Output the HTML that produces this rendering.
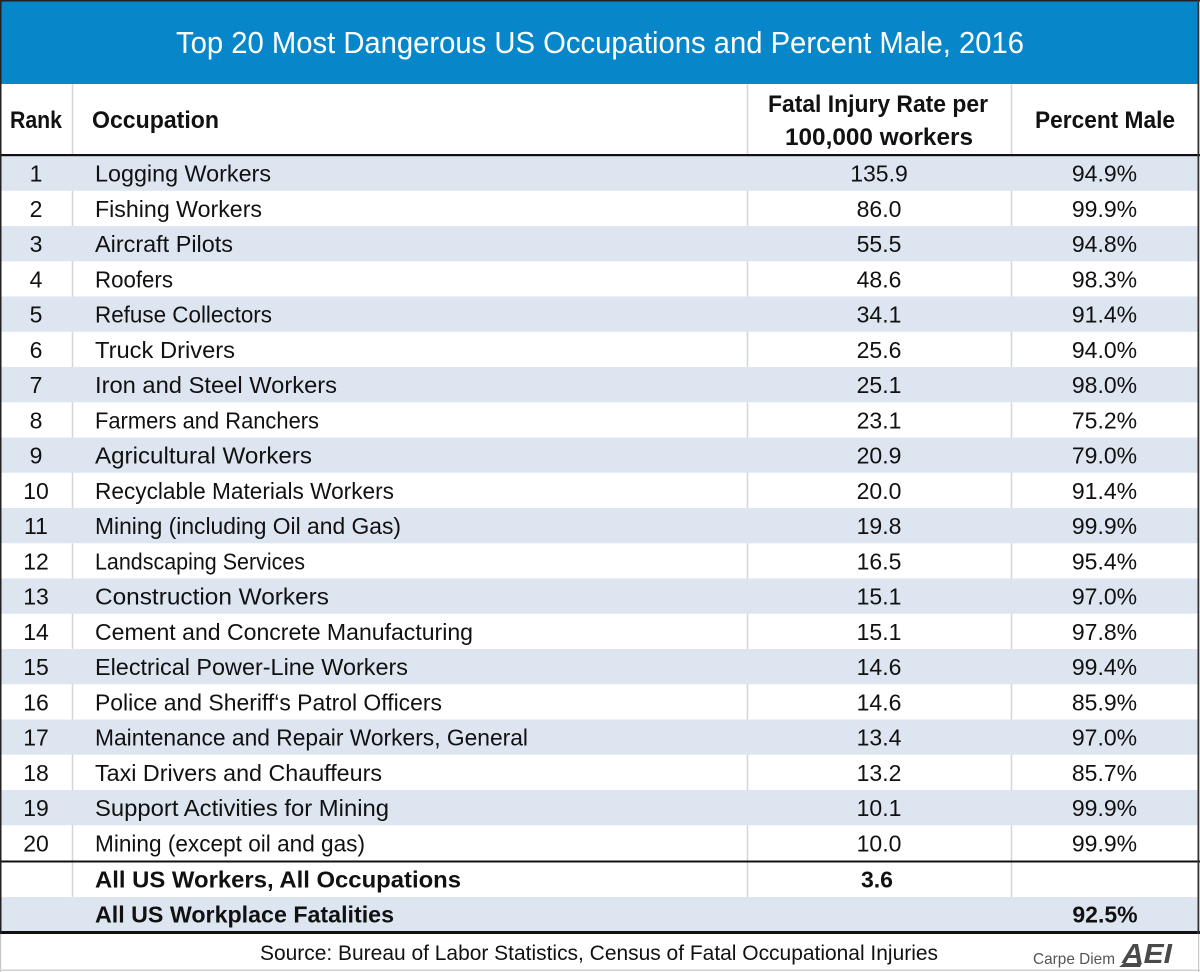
<!DOCTYPE html>
<html>
<head>
<meta charset="utf-8">
<style>
  html, body { margin: 0; padding: 0; background: #ffffff; }
  svg { display: block; }
  text { font-family: "Liberation Sans", Arial, sans-serif; fill: #111111; }
  .hd { font-weight: bold; font-size: 24px; }
  .d { font-size: 23px; }
  .b { font-size: 23px; font-weight: bold; }
</style>
</head>
<body>
<svg width="1200" height="972" viewBox="0 0 1200 972" xmlns="http://www.w3.org/2000/svg">
  <rect x="0" y="0" width="1200" height="972" fill="#ffffff"/>
  <!-- Title bar -->
  <rect x="1" y="1" width="1197" height="83" fill="#0787c9"/>
  <text x="176" y="53" font-size="31" textLength="848" lengthAdjust="spacingAndGlyphs" style="fill:#ffffff">Top 20 Most Dangerous US Occupations and Percent Male, 2016</text>

  <!-- vertical dividers (under shading) -->
  <g stroke="#d6d6d6" stroke-width="1.5">
    <line x1="72.5" y1="84" x2="72.5" y2="932"/>
    <line x1="747.5" y1="84" x2="747.5" y2="932"/>
    <line x1="1011.5" y1="84" x2="1011.5" y2="932"/>
  </g>

  <!-- shaded rows -->
  <g fill="#dce5f0">
    <rect x="1" y="155.5" width="1197" height="35.25"/>
    <rect x="1" y="226" width="1197" height="35.25"/>
    <rect x="1" y="296.5" width="1197" height="35.25"/>
    <rect x="1" y="367" width="1197" height="35.25"/>
    <rect x="1" y="437.5" width="1197" height="35.25"/>
    <rect x="1" y="508" width="1197" height="35.25"/>
    <rect x="1" y="578.5" width="1197" height="35.25"/>
    <rect x="1" y="649" width="1197" height="35.25"/>
    <rect x="1" y="719.5" width="1197" height="35.25"/>
    <rect x="1" y="790" width="1197" height="35.25"/>
    <rect x="1" y="897" width="1197" height="34.5"/>
  </g>

  <!-- header -->
  <text class="hd" x="10" y="128" textLength="52" lengthAdjust="spacingAndGlyphs">Rank</text>
  <text class="hd" x="92" y="128" textLength="127" lengthAdjust="spacingAndGlyphs">Occupation</text>
  <text class="hd" x="768" y="112" textLength="220" lengthAdjust="spacingAndGlyphs">Fatal Injury Rate per</text>
  <text class="hd" x="785" y="145" textLength="188" lengthAdjust="spacingAndGlyphs">100,000 workers</text>
  <text class="hd" x="1035" y="128" textLength="140" lengthAdjust="spacingAndGlyphs">Percent Male</text>

  <!-- thick lines -->
  <rect x="0" y="154" width="1200" height="2.2" fill="#111"/>
  <rect x="0" y="860.5" width="1200" height="2" fill="#111"/>
  <rect x="0" y="931" width="1200" height="3" fill="#111"/>

  <!-- outer borders -->
  <rect x="0" y="0" width="1200" height="1.5" fill="#222"/>
  <rect x="0" y="0" width="1.5" height="934" fill="#222"/>
  <rect x="1197.5" y="0" width="1.8" height="934" fill="#333"/>
  <!-- footer border -->
  <rect x="0" y="934" width="1.2" height="38" fill="#c8c8c8"/>
  <rect x="1198" y="934" width="1.2" height="38" fill="#c8c8c8"/>
  <rect x="0" y="969.5" width="1200" height="1.5" fill="#d0d0d0"/>

  <!-- rank numbers -->
  <g class="d" text-anchor="middle">
    <text class="d" x="36" y="181.5">1</text>
    <text class="d" x="36" y="216.75">2</text>
    <text class="d" x="36" y="252">3</text>
    <text class="d" x="36" y="287.25">4</text>
    <text class="d" x="36" y="322.5">5</text>
    <text class="d" x="36" y="357.75">6</text>
    <text class="d" x="36" y="393">7</text>
    <text class="d" x="36" y="428.25">8</text>
    <text class="d" x="36" y="463.5">9</text>
    <text class="d" x="36" y="498.75">10</text>
    <text class="d" x="36" y="534">11</text>
    <text class="d" x="36" y="569.25">12</text>
    <text class="d" x="36" y="604.5">13</text>
    <text class="d" x="36" y="639.75">14</text>
    <text class="d" x="36" y="675">15</text>
    <text class="d" x="36" y="710.25">16</text>
    <text class="d" x="36" y="745.5">17</text>
    <text class="d" x="36" y="780.75">18</text>
    <text class="d" x="36" y="816">19</text>
    <text class="d" x="36" y="851.25">20</text>
  </g>

  <!-- occupations -->
  <text class="d" x="95" y="181.5" textLength="176" lengthAdjust="spacingAndGlyphs">Logging Workers</text>
  <text class="d" x="95" y="216.75" textLength="167" lengthAdjust="spacingAndGlyphs">Fishing Workers</text>
  <text class="d" x="95" y="252" textLength="138" lengthAdjust="spacingAndGlyphs">Aircraft Pilots</text>
  <text class="d" x="95" y="287.25" textLength="78" lengthAdjust="spacingAndGlyphs">Roofers</text>
  <text class="d" x="95" y="322.5" textLength="177" lengthAdjust="spacingAndGlyphs">Refuse Collectors</text>
  <text class="d" x="95" y="357.75" textLength="140" lengthAdjust="spacingAndGlyphs">Truck Drivers</text>
  <text class="d" x="95" y="393" textLength="242" lengthAdjust="spacingAndGlyphs">Iron and Steel Workers</text>
  <text class="d" x="95" y="428.25" textLength="224" lengthAdjust="spacingAndGlyphs">Farmers and Ranchers</text>
  <text class="d" x="95" y="463.5" textLength="217" lengthAdjust="spacingAndGlyphs">Agricultural Workers</text>
  <text class="d" x="95" y="498.75" textLength="299" lengthAdjust="spacingAndGlyphs">Recyclable Materials Workers</text>
  <text class="d" x="95" y="534" textLength="306" lengthAdjust="spacingAndGlyphs">Mining (including Oil and Gas)</text>
  <text class="d" x="95" y="569.25" textLength="210" lengthAdjust="spacingAndGlyphs">Landscaping Services</text>
  <text class="d" x="95" y="604.5" textLength="234" lengthAdjust="spacingAndGlyphs">Construction Workers</text>
  <text class="d" x="95" y="639.75" textLength="378" lengthAdjust="spacingAndGlyphs">Cement and Concrete Manufacturing</text>
  <text class="d" x="95" y="675" textLength="313" lengthAdjust="spacingAndGlyphs">Electrical Power-Line Workers</text>
  <text class="d" x="95" y="710.25" textLength="347" lengthAdjust="spacingAndGlyphs">Police and Sheriff‘s Patrol Officers</text>
  <text class="d" x="95" y="745.5" textLength="433" lengthAdjust="spacingAndGlyphs">Maintenance and Repair Workers, General</text>
  <text class="d" x="95" y="780.75" textLength="287" lengthAdjust="spacingAndGlyphs">Taxi Drivers and Chauffeurs</text>
  <text class="d" x="95" y="816" textLength="294" lengthAdjust="spacingAndGlyphs">Support Activities for Mining</text>
  <text class="d" x="95" y="851.25" textLength="270" lengthAdjust="spacingAndGlyphs">Mining (except oil and gas)</text>
  <text class="b" x="95" y="887.5" textLength="366" lengthAdjust="spacingAndGlyphs">All US Workers, All Occupations</text>
  <text class="b" x="95" y="922.5" textLength="299" lengthAdjust="spacingAndGlyphs">All US Workplace Fatalities</text>

  <!-- fatal injury rate -->
  <g text-anchor="middle">
    <text class="d" x="879" y="181.5">135.9</text>
    <text class="d" x="879" y="216.75">86.0</text>
    <text class="d" x="879" y="252">55.5</text>
    <text class="d" x="879" y="287.25">48.6</text>
    <text class="d" x="879" y="322.5">34.1</text>
    <text class="d" x="879" y="357.75">25.6</text>
    <text class="d" x="879" y="393">25.1</text>
    <text class="d" x="879" y="428.25">23.1</text>
    <text class="d" x="879" y="463.5">20.9</text>
    <text class="d" x="879" y="498.75">20.0</text>
    <text class="d" x="879" y="534">19.8</text>
    <text class="d" x="879" y="569.25">16.5</text>
    <text class="d" x="879" y="604.5">15.1</text>
    <text class="d" x="879" y="639.75">15.1</text>
    <text class="d" x="879" y="675">14.6</text>
    <text class="d" x="879" y="710.25">14.6</text>
    <text class="d" x="879" y="745.5">13.4</text>
    <text class="d" x="879" y="780.75">13.2</text>
    <text class="d" x="879" y="816">10.1</text>
    <text class="d" x="879" y="851.25">10.0</text>
    <text class="b" x="877" y="887.5">3.6</text>
  </g>

  <!-- percent male -->
  <g text-anchor="middle">
    <text class="d" x="1104.5" y="181.5">94.9%</text>
    <text class="d" x="1104.5" y="216.75">99.9%</text>
    <text class="d" x="1104.5" y="252">94.8%</text>
    <text class="d" x="1104.5" y="287.25">98.3%</text>
    <text class="d" x="1104.5" y="322.5">91.4%</text>
    <text class="d" x="1104.5" y="357.75">94.0%</text>
    <text class="d" x="1104.5" y="393">98.0%</text>
    <text class="d" x="1104.5" y="428.25">75.2%</text>
    <text class="d" x="1104.5" y="463.5">79.0%</text>
    <text class="d" x="1104.5" y="498.75">91.4%</text>
    <text class="d" x="1104.5" y="534">99.9%</text>
    <text class="d" x="1104.5" y="569.25">95.4%</text>
    <text class="d" x="1104.5" y="604.5">97.0%</text>
    <text class="d" x="1104.5" y="639.75">97.8%</text>
    <text class="d" x="1104.5" y="675">99.4%</text>
    <text class="d" x="1104.5" y="710.25">85.9%</text>
    <text class="d" x="1104.5" y="745.5">97.0%</text>
    <text class="d" x="1104.5" y="780.75">85.7%</text>
    <text class="d" x="1104.5" y="816">99.9%</text>
    <text class="d" x="1104.5" y="851.25">99.9%</text>
    <text class="b" x="1105" y="922.5">92.5%</text>
  </g>

  <!-- footer -->
  <text x="260" y="960" font-size="21" textLength="678" lengthAdjust="spacingAndGlyphs">Source: Bureau of Labor Statistics, Census of Fatal Occupational Injuries</text>
  <text x="1033" y="964" font-size="16" textLength="82" lengthAdjust="spacingAndGlyphs" style="fill:#555555">Carpe Diem</text>
  <polygon points="1119,967 1140,967 1142,963 1124,963" fill="#4a4a4a"/>
  <text x="1122" y="963" font-size="28" font-weight="bold" font-style="italic" textLength="50" lengthAdjust="spacingAndGlyphs" style="fill:#4a4a4a">AEI</text>
</svg>
</body>
</html>
